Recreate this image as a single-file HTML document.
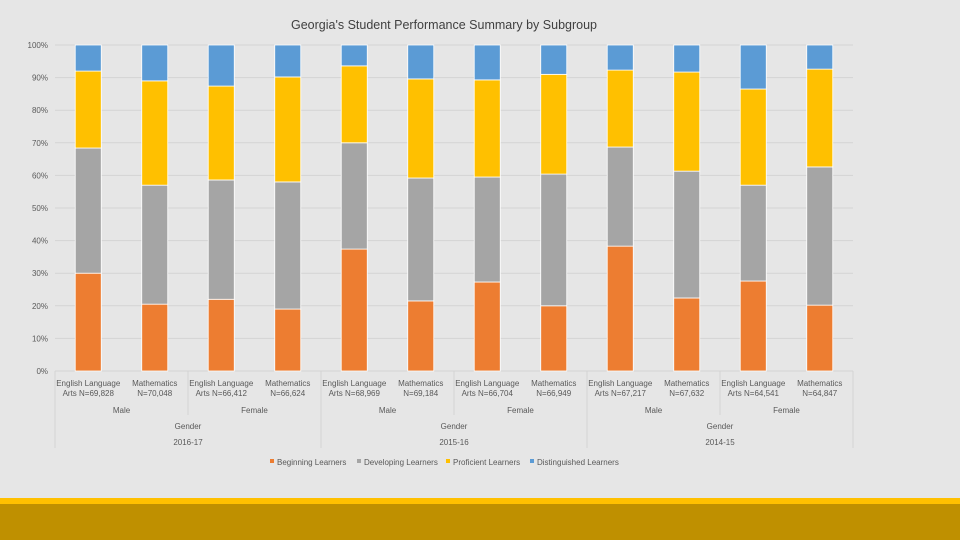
<!DOCTYPE html>
<html><head><meta charset="utf-8"><style>
html,body{margin:0;padding:0;width:960px;height:540px;overflow:hidden;background:#e6e6e6;font-family:"Liberation Sans",sans-serif}
svg{display:block}
svg text{font-family:"Liberation Sans",sans-serif;fill:#595959}
</style></head><body>
<svg width="960" height="540">
<rect x="0" y="0" width="960" height="540" fill="#e6e6e6"/>
<text x="444" y="29" font-size="12.5" text-anchor="middle" style="fill:#404040">Georgia's Student Performance Summary by Subgroup</text>
<g id="grid"></g><g id="bars"></g><g id="xaxis"></g><g id="legend"></g>
<rect x="0" y="498" width="960" height="6" fill="#ffc000"/>
<rect x="0" y="504" width="960" height="36" fill="#bf9000"/>
</svg>
<script>
const categories=["English Language|Arts N=69,828","Mathematics|N=70,048","English Language|Arts N=66,412","Mathematics|N=66,624","English Language|Arts N=68,969","Mathematics|N=69,184","English Language|Arts N=66,704","Mathematics|N=66,949","English Language|Arts N=67,217","Mathematics|N=67,632","English Language|Arts N=64,541","Mathematics|N=64,847"];
const genders=["Male","Female","Male","Female","Male","Female"];
const years=["2016-17","2015-16","2014-15"];
const beginning=[30,20.5,22,19,37.4,21.5,27.3,20,38.3,22.4,27.6,20.2];
const developing=[38.4,36.5,36.6,39,32.6,37.7,32.2,40.4,30.4,38.9,29.4,42.4];
const proficient=[23.6,32,28.8,32.2,23.6,30.4,29.8,30.6,23.6,30.4,29.5,30];
const distinguished=[8,11,12.6,9.8,6.4,10.4,10.7,9,7.7,8.3,13.5,7.4];
const yTicks=[0,10,20,30,40,50,60,70,80,90,100];
const seriesNames=["Beginning Learners","Developing Learners","Proficient Learners","Distinguished Learners"];
const colors=["#ed7d31","#a5a5a5","#ffc000","#5b9bd5"];
const NS="http://www.w3.org/2000/svg";
const X0=55,X1=853,Y0=371,Y1=45;
const band=(X1-X0)/categories.length;
const y=v=>Y0-(v/100)*(Y0-Y1);
const xc=i=>X0+band*(i+0.5);
function mk(tag,attrs,parent){const e=document.createElementNS(NS,tag);for(const k in attrs)e.setAttribute(k,attrs[k]);parent.appendChild(e);return e;}
const grid=document.getElementById('grid');
yTicks.forEach(t=>{
 const l=mk('line',{x1:X0,x2:X1,y1:y(t),y2:y(t),stroke:'#d4d4d4','stroke-width':1},grid);
 
 
 const tx=mk('text',{x:48,y:y(t)+3,'font-size':8,'text-anchor':'end'},grid);
 tx.textContent=t+'%';
 
 
});
const bars=document.getElementById('bars');
const series=[beginning,developing,proficient,distinguished];
categories.forEach((c,i)=>{
 let acc=0;
 series.forEach((s,k)=>{
  const v=s[i];const top=y(acc+v),bot=y(acc);
  const r=mk('rect',{x:xc(i)-13,y:top,width:26,height:bot-top,fill:colors[k],stroke:'#ffffff','stroke-width':0.8},bars);
  
  
  acc+=v;
 });
});
const xa=document.getElementById('xaxis');
function vline(x,y2){const l=mk('line',{x1:x,x2:x,y1:Y0,y2:y2,stroke:'#d4d4d4','stroke-width':1},xa);
 
 }
for(let g=0;g<=6;g++){vline(X0+band*2*g,g%2===0?448:415);}
categories.forEach((c,i)=>{
 const p=c.split('|');
 p.forEach((s,j)=>{const t=mk('text',{x:xc(i),y:386+j*10,'font-size':8,'text-anchor':'middle'},xa);t.textContent=s;
 
 });
});
genders.forEach((g,i)=>{const t=mk('text',{x:X0+band*(2*i+1),y:413,'font-size':8,'text-anchor':'middle'},xa);t.textContent=g;
 
 });
years.forEach((yy,i)=>{const cx=X0+band*(4*i+2);
 const t=mk('text',{x:cx,y:429,'font-size':8,'text-anchor':'middle'},xa);t.textContent='Gender';
 
 
 const t2=mk('text',{x:cx,y:445,'font-size':8,'text-anchor':'middle'},xa);t2.textContent=yy;
 
 });
const lg=document.getElementById('legend');
const lx=[270,357,446,530];
seriesNames.forEach((n,k)=>{
 const r=mk('rect',{x:lx[k],y:459,width:4,height:4,fill:colors[k]},lg);
 
 
 const t=mk('text',{x:lx[k]+7,y:465,'font-size':8},lg);t.textContent=n;
 
 
});
</script>
</body></html>
